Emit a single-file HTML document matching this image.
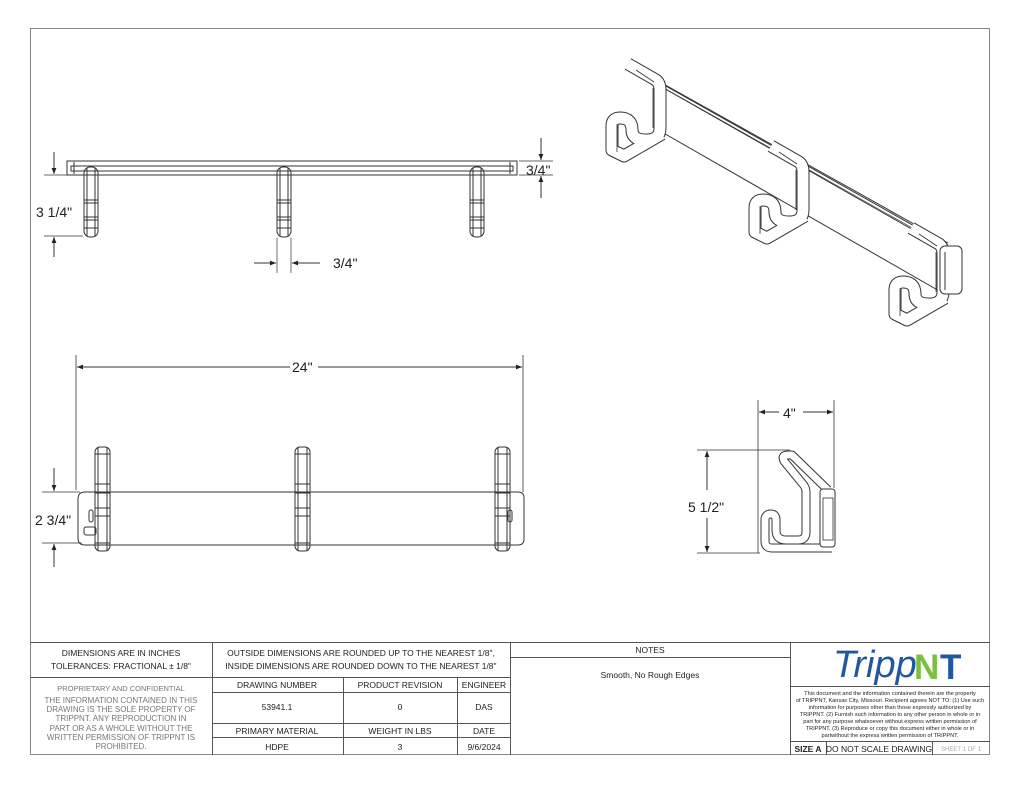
<!DOCTYPE html>
<html><head><meta charset="utf-8"><style>
html,body{margin:0;padding:0;background:#fff}
svg{display:block}
text{font-family:"Liberation Sans",sans-serif;fill:#222}
</style></head><body>
<svg width="1024" height="791" viewBox="0 0 1024 791" xmlns="http://www.w3.org/2000/svg">
<defs>
<marker id="ar" viewBox="0 0 10 10" refX="10" refY="5" markerWidth="9" markerHeight="6" orient="auto-start-reverse" markerUnits="userSpaceOnUse"><path d="M0,1 L10,5 L0,9z" fill="#222"/></marker>
</defs>
<rect x="30.5" y="28.5" width="959" height="726" fill="none" stroke="#888" stroke-width="1"/>

<!-- TOP VIEW -->
<g stroke="#333" fill="none" stroke-width="1">
<rect x="67" y="161" width="450" height="14"/>
<rect x="71" y="166" width="442" height="5"/>
<line x1="74" y1="162" x2="74" y2="174"/><line x1="510" y1="162" x2="510" y2="174"/>
<g id="th">
<rect x="84" y="167" width="14" height="70" rx="6"/>
<line x1="87" y1="168" x2="87" y2="236"/><line x1="95" y1="168" x2="95" y2="236"/>
<line x1="84" y1="200" x2="98" y2="200"/><line x1="84" y1="203" x2="98" y2="203"/>
<line x1="84" y1="217" x2="98" y2="217"/><line x1="84" y1="220" x2="98" y2="220"/>
<line x1="84" y1="228" x2="98" y2="228"/>
</g>
<use href="#th" x="193"/><use href="#th" x="386"/>
<line x1="44" y1="175" x2="83" y2="175" stroke-width=".7"/>
<line x1="44" y1="236" x2="83" y2="236" stroke-width=".7"/>
<line x1="54" y1="152" x2="54" y2="174" marker-end="url(#ar)"/>
<line x1="54" y1="257" x2="54" y2="237" marker-end="url(#ar)"/>
<line x1="519" y1="161" x2="553" y2="161" stroke-width=".7"/>
<line x1="519" y1="175" x2="553" y2="175" stroke-width=".7"/>
<line x1="541" y1="138" x2="541" y2="160" marker-end="url(#ar)"/>
<line x1="541" y1="198" x2="541" y2="176" marker-end="url(#ar)"/>
<line x1="277" y1="238" x2="277" y2="273" stroke-width=".7"/>
<line x1="291" y1="238" x2="291" y2="273" stroke-width=".7"/>
<line x1="254" y1="263" x2="276" y2="263" marker-end="url(#ar)"/>
<line x1="320" y1="263" x2="292" y2="263" marker-end="url(#ar)"/>
</g>
<text x="36" y="217" font-size="14">3 1/4"</text>
<text x="526" y="175" font-size="14">3/4"</text>
<text x="333" y="268" font-size="14">3/4"</text>

<!-- FRONT VIEW -->
<g stroke="#333" fill="none" stroke-width="1">
<path d="M85 492 H518 Q524 492 524 498 V539 Q524 545 518 545 H85 Q78 545 78 538 V499 Q78 492 85 492Z"/>
<rect x="89" y="510" width="4" height="12" rx="2"/>
<rect x="84" y="527" width="12" height="8" rx="2"/>
<rect x="508" y="510" width="4" height="12" rx="2"/>
<g id="fh">
<rect x="95" y="447" width="15" height="104" rx="5"/>
<line x1="98" y1="448" x2="98" y2="550"/><line x1="107" y1="448" x2="107" y2="550"/>
<line x1="95" y1="454" x2="110" y2="454"/><line x1="95" y1="484" x2="110" y2="484"/>
<line x1="95" y1="493" x2="110" y2="493"/><line x1="95" y1="508" x2="110" y2="508"/>
<line x1="95" y1="516" x2="110" y2="516"/><line x1="95" y1="543" x2="110" y2="543"/>
</g>
<use href="#fh" x="200"/><use href="#fh" x="400"/>
<line x1="76" y1="355" x2="76" y2="490" stroke-width=".8"/>
<line x1="523" y1="355" x2="523" y2="492" stroke-width=".8"/>
<line x1="290" y1="367" x2="77" y2="367" marker-end="url(#ar)"/>
<line x1="318" y1="367" x2="522" y2="367" marker-end="url(#ar)"/>
<line x1="42" y1="492" x2="80" y2="492" stroke-width=".7"/>
<line x1="42" y1="543" x2="82" y2="543" stroke-width=".7"/>
<line x1="54" y1="468" x2="54" y2="491" marker-end="url(#ar)"/>
<line x1="54" y1="567" x2="54" y2="544" marker-end="url(#ar)"/>
</g>
<text x="292" y="372" font-size="14">24"</text>
<text x="35" y="525" font-size="14">2 3/4"</text>

<!-- SIDE VIEW -->
<g fill="none">
<path d="M832 548 H772 Q765 548 765 541 V520 Q765 514 771 514 Q776 514 776 520 V530 Q776 540 786 540 H798 Q806 540 806 532 V492 Q806 487 802 483 L784 461 Q781 455 788 455 L792 455 L828 490" stroke="#333" stroke-width="9" stroke-linejoin="round"/>
<path d="M832 548 H772 Q765 548 765 541 V520 Q765 514 771 514 Q776 514 776 520 V530 Q776 540 786 540 H798 Q806 540 806 532 V492 Q806 487 802 483 L784 461 Q781 455 788 455 L792 455 L828 490" stroke="#fff" stroke-width="7" stroke-linejoin="round"/>
<rect x="820" y="489" width="15" height="58" rx="3" fill="#fff" stroke="#333"/>
<rect x="823" y="498" width="10" height="42" stroke="#333" stroke-width=".8"/>
<g stroke="#333" stroke-width="1">
<line x1="758" y1="400" x2="758" y2="553" stroke-width=".8"/>
<line x1="834" y1="400" x2="834" y2="488" stroke-width=".8"/>
<line x1="779" y1="412" x2="759" y2="412" marker-end="url(#ar)"/>
<line x1="803" y1="412" x2="833" y2="412" marker-end="url(#ar)"/>
<line x1="697" y1="450" x2="790" y2="450" stroke-width=".7"/>
<line x1="697" y1="553" x2="760" y2="553" stroke-width=".7"/>
<line x1="707" y1="490" x2="707" y2="451" marker-end="url(#ar)"/>
<line x1="707" y1="518" x2="707" y2="552" marker-end="url(#ar)"/>
</g>
</g>
<text x="783" y="418" font-size="14">4"</text>
<text x="688" y="512" font-size="14">5 1/2"</text>

<!-- ISO VIEW -->
<g fill="none" stroke="#333" stroke-width="1">
<path d="M660 86 L945 248 L948 296 L660 131Z" fill="#fff"/>
<line x1="660" y1="82" x2="948" y2="243"/>
<line x1="664" y1="85" x2="948" y2="245"/>
<line x1="664" y1="88" x2="946" y2="247" stroke-width=".6"/>
<g id="ih">
<path d="M628 64 L656 80 Q660 83 660 90 V128 Q660 140 646 140 Q632 140 632 130 Q632 118 620 118 Q612 118 612 126 V150 L624 156 L662 134" stroke-width="13" stroke-linejoin="round"/>
<path d="M628 64 L656 80 Q660 83 660 90 V128 Q660 140 646 140 Q632 140 632 130 Q632 118 620 118 Q612 118 612 126 V150 L624 156 L662 134" stroke="#fff" stroke-width="11" stroke-linejoin="round"/>
<path d="M636 70 L654 82" stroke-width=".8"/>
<path d="M653 88 V128" stroke-width=".8"/>
<path d="M617 124 V152" stroke-width=".8"/>
</g>
<use href="#ih" x="143" y="82"/>
<use href="#ih" x="283" y="164"/>
<rect x="940" y="246" width="22" height="48" rx="5" fill="#fff"/>
<line x1="945" y1="252" x2="945" y2="290"/>
</g>

<!-- TITLE BLOCK -->
<g stroke="#555" fill="none" stroke-width="1">
<line x1="30" y1="642.5" x2="990" y2="642.5"/>
<line x1="30" y1="677.5" x2="510" y2="677.5"/>
<line x1="212.5" y1="642" x2="212.5" y2="755"/>
<line x1="510.5" y1="642" x2="510.5" y2="755"/>
<line x1="790.5" y1="642" x2="790.5" y2="755"/>
<line x1="212" y1="692.5" x2="510" y2="692.5"/>
<line x1="212" y1="723.5" x2="510" y2="723.5"/>
<line x1="212" y1="737.5" x2="510" y2="737.5"/>
<line x1="343.5" y1="677" x2="343.5" y2="755"/>
<line x1="457.5" y1="677" x2="457.5" y2="755"/>
<line x1="510" y1="657.5" x2="790" y2="657.5"/>
<line x1="790" y1="686.5" x2="990" y2="686.5"/>
<line x1="790" y1="741.5" x2="990" y2="741.5"/>
<line x1="826.5" y1="741" x2="826.5" y2="755"/>
<line x1="932.5" y1="741" x2="932.5" y2="755"/>
</g>
<g font-size="8.5" text-anchor="middle">
<text x="121" y="656">DIMENSIONS ARE IN INCHES</text>
<text x="121" y="669">TOLERANCES: FRACTIONAL ± 1/8"</text>
<text x="361" y="656">OUTSIDE DIMENSIONS ARE ROUNDED UP TO THE NEAREST 1/8",</text>
<text x="361" y="669">INSIDE DIMENSIONS ARE ROUNDED DOWN TO THE NEAREST 1/8"</text>
<text x="121" y="691" style="fill:#777" font-size="7.5">PROPRIETARY AND CONFIDENTIAL</text>
<text x="121" y="703" style="fill:#777" font-size="8">THE INFORMATION CONTAINED IN THIS</text>
<text x="121" y="712" style="fill:#777" font-size="8">DRAWING IS THE SOLE PROPERTY OF</text>
<text x="121" y="721" style="fill:#777" font-size="8">TRIPPNT.  ANY REPRODUCTION IN</text>
<text x="121" y="731" style="fill:#777" font-size="8">PART OR AS A WHOLE WITHOUT THE</text>
<text x="121" y="740" style="fill:#777" font-size="8">WRITTEN PERMISSION OF TRIPPNT IS</text>
<text x="121" y="749" style="fill:#777" font-size="8">PROHIBITED.</text>
<text x="277" y="688">DRAWING NUMBER</text>
<text x="400" y="688">PRODUCT REVISION</text>
<text x="484" y="688">ENGINEER</text>
<text x="277" y="710">53941.1</text>
<text x="400" y="710">0</text>
<text x="484" y="710">DAS</text>
<text x="277" y="734">PRIMARY MATERIAL</text>
<text x="400" y="734">WEIGHT IN LBS</text>
<text x="484" y="734">DATE</text>
<text x="277" y="750">HDPE</text>
<text x="400" y="750">3</text>
<text x="484" y="750">9/6/2024</text>
<text x="650" y="653">NOTES</text>
<text x="650" y="678">Smooth, No Rough Edges</text>
</g>
<text x="833" y="677" font-family="Liberation Serif,serif" font-style="italic" font-size="38" style="fill:#1f57a0">Tripp</text>
<text x="914" y="679" font-size="35" font-weight="bold" style="fill:#7bbf3f">N</text>
<text x="940" y="679" font-size="35" font-weight="bold" style="fill:#1f57a0">T</text>
<g font-size="5.6" text-anchor="middle">
<text x="890" y="695">This document and the information contained therein are the property</text>
<text x="890" y="702">of TRIPPNT, Kansas City, Missouri. Recipient agrees NOT TO: (1) Use such</text>
<text x="890" y="709">information for purposes other than those expressly authorized by</text>
<text x="890" y="716">TRIPPNT. (2) Furnish such information to any other person in whole or in</text>
<text x="890" y="723">part for any purpose whatsoever without express  written permission of</text>
<text x="890" y="730">TRIPPNT. (3) Reproduce or copy this document either in whole or in</text>
<text x="890" y="737">partwithout the express written permission of TRIPPNT.</text>
</g>
<text x="808" y="752" font-size="8.5" font-weight="bold" text-anchor="middle">SIZE A</text>
<text x="879" y="752" font-size="8.5" text-anchor="middle">DO NOT SCALE DRAWING</text>
<text x="961" y="751" font-size="6" text-anchor="middle" style="fill:#aaa">SHEET 1 OF 1</text>
</svg>
</body></html>
